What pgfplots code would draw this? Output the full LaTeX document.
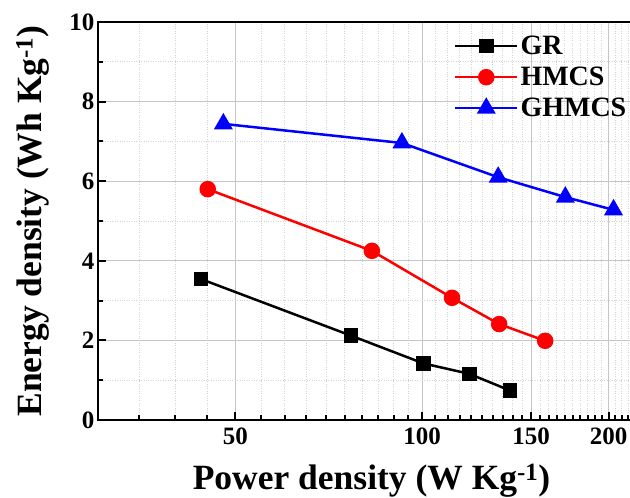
\documentclass[border=0pt]{standalone}
\usepackage{fontspec}
\setmainfont{Liberation Serif}
\usepackage{pgfplots}
\pgfplotsset{compat=1.18}

\begin{document}
\begin{tikzpicture}
\begin{axis}[
    scale only axis,
    width=547pt, height=398pt,
    xmode=log,
    xmin=30, xmax=229,
    ymin=0, ymax=10,
    xtick={50,100,150,200},
    xticklabels={\textbf{50},\textbf{100},\textbf{150},\textbf{200}},
    minor xtick={35,40,...,225},
    ytick={0,2,4,6,8,10},
    yticklabels={\textbf{0},\textbf{2},\textbf{4},\textbf{6},\textbf{8},\textbf{10}},
    minor ytick={1,3,...,9},
    grid=both,
    major grid style={gray!45, line width=0.8pt},
    minor grid style={gray!35, dotted, line width=0.8pt},
    axis line style={line width=2.6pt},
    tick style={black, line width=2pt},
    major tick length=8pt,
    minor tick length=5pt,
    tick align=inside,
    xtick pos=lower, ytick pos=left,
    ticklabel style={font=\bfseries\fontsize{25}{25}\selectfont},
    xticklabel style={yshift=-4pt},
    xlabel={Power density (W Kg\textsuperscript{-1})},
    ylabel={Energy density (Wh Kg\textsuperscript{-1})},
    label style={font=\bfseries\fontsize{35.5}{35.5}\selectfont},
    xlabel style={at={(rel axis cs:0.5,0)}, anchor=base, yshift=-70pt},
    ylabel style={at={(rel axis cs:-0.0823,0.5)}, anchor=south},
    legend cell align=left,
    legend style={at={(0.645,0.975)}, anchor=north west, draw=none, fill=none,
        font=\bfseries\fontsize{28}{28}\selectfont, row sep=7pt,
        /tikz/every even column/.append style={column sep=4pt}},
    legend image code/.code={\draw[mark repeat=2,mark phase=2,#1] plot coordinates {(0pt,0pt) (31pt,0pt) (62pt,0pt)};},
]
\coordinate (bl) at (rel axis cs:0,0);
\coordinate (tl) at (rel axis cs:0,1);

\addplot[black, line width=2.5pt, mark=square*, mark size=6pt] coordinates {
    (44.0,3.54)(76.8,2.12)(100.6,1.42)(119.2,1.16)(138.7,0.74)
};
\addplot[red, line width=2.5pt, mark=*, mark size=7pt] coordinates {
    (45.1,5.80)(83.0,4.25)(111.8,3.07)(133.2,2.41)(158,1.99)
};
\addplot[blue, line width=2.5pt, mark=triangle*, mark size=8.5pt] coordinates {
    (47.8,7.44)(92.8,6.96)(132.7,6.10)(170.3,5.60)(203.7,5.28)
};
\legend{GR, HMCS, GHMCS}
\end{axis}
\pgfresetboundingbox
\path[use as bounding box] ([shift={(-98pt,-78pt)}]bl) rectangle ([shift={(532pt,22pt)}]tl);
\end{tikzpicture}
\end{document}
